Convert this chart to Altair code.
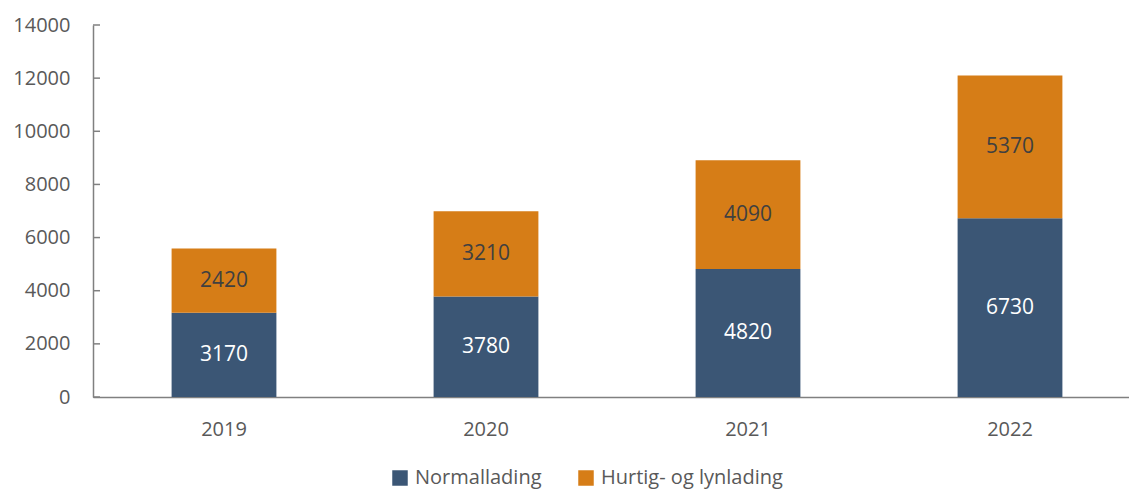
import altair as alt
import pandas as pd

years = ["2019", "2020", "2021", "2022"]
normal = [3170, 3780, 4820, 6730]
hurtig = [2420, 3210, 4090, 5370]
series = ["Normallading", "Hurtig- og lynlading"]
colors = ["#3B5675", "#D67D17"]
yticks = [0, 2000, 4000, 6000, 8000, 10000, 12000, 14000]

rows = []
for i, y in enumerate(years):
    rows.append({"year": y, "series": series[0], "value": normal[i], "order": 0,
                 "start": 0, "end": normal[i], "mid": normal[i] / 2})
    rows.append({"year": y, "series": series[1], "value": hurtig[i], "order": 1,
                 "start": normal[i], "end": normal[i] + hurtig[i],
                 "mid": normal[i] + hurtig[i] / 2})
df = pd.DataFrame(rows)

FONT = "Open Sans"
GRAY = "#595959"
ysc = alt.Scale(domain=[0, 14000], nice=False)
xsc = alt.Scale(paddingInner=0.6, paddingOuter=0.3, range=[0, 1048])

x = alt.X("year:N", scale=xsc, sort=years,
          axis=alt.Axis(title=None, labelAngle=0, ticks=False, labelPadding=22,
                        labelFontSize=20, labelColor=GRAY, labelFont=FONT,
                        domainColor="#808080", domainWidth=1.5))

bars = alt.Chart(df).mark_bar().encode(
    x=x,
    y=alt.Y("start:Q", scale=ysc,
            axis=alt.Axis(title=None, values=yticks, ticks=False, grid=False, format="d",
                          labelPadding=23, labelFontSize=20, labelColor=GRAY,
                          labelFont=FONT, domainColor="#808080", domainWidth=1.5)),
    y2="end:Q",
    color=alt.Color("series:N", scale=alt.Scale(domain=series, range=colors),
                    legend=alt.Legend(title=None, orient="none", direction="horizontal",
                                      legendX=297, legendY=443, padding=0,
                                      symbolType="square", symbolSize=240,
                                      symbolStrokeWidth=0, labelOffset=5,
                                      labelFontSize=20, labelColor=GRAY,
                                      labelFont=FONT, columnPadding=34, labelLimit=400)),
)

labels = alt.Chart(df).mark_text(fontSize=21, font=FONT).encode(
    x=alt.X("year:N", sort=years, scale=xsc),
    y=alt.Y("mid:Q", scale=ysc),
    text=alt.Text("value:Q", format="d"),
    color=alt.Color("series:N", scale=alt.Scale(domain=series, range=["#FFFFFF", "#404040"]),
                    legend=None),
)

tickdf = pd.DataFrame({"v": yticks})
ticks = alt.Chart(tickdf).mark_rule(color="#808080", strokeWidth=1.5).encode(
    x=alt.value(0), x2=alt.value(7), y=alt.Y("v:Q", scale=ysc)
)

chart = alt.layer(bars, labels, ticks).resolve_scale(color="independent").properties(
    width=1036, height=372,
    autosize=alt.AutoSizeParams(type="none"),
    padding={"left": 93, "top": 25, "right": 0, "bottom": 95},
).configure_view(stroke=None)

chart.save("out.html", embed_options={"renderer": "svg", "actions": False})
